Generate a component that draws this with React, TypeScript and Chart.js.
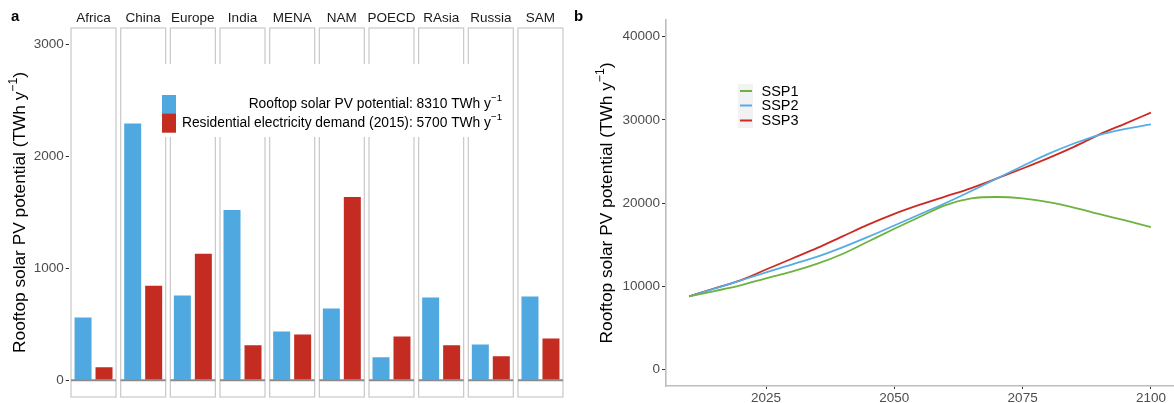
import React, { useEffect, useRef } from "react";
import { Chart, registerables } from "chart.js";

Chart.register(...registerables);

const FONT = "'Liberation Sans', Arial, Helvetica, sans-serif";
Chart.defaults.font.family = FONT;

// ---- Panel a data ----
const regions = ["Africa", "China", "Europe", "India", "MENA", "NAM", "POECD", "RAsia", "Russia", "SAM"];
const pvPotential = [561, 2297, 757, 1523, 436, 641, 205, 739, 320, 748];
const resDemand = [115, 846, 1131, 312, 410, 1639, 392, 312, 214, 374];
const barTicks = [0, 1000, 2000, 3000];
const barLegend = [
  "Rooftop solar PV potential: 8310 TWh y",
  "Residential electricity demand (2015): 5700 TWh y",
];

// ---- Panel b data ----
const years = [2010, 2015, 2020, 2025, 2030, 2035, 2040, 2045, 2050, 2055, 2060, 2065, 2070, 2075, 2080, 2085, 2090, 2095, 2100];
const ssp1 = [8780, 9420, 10100, 10950, 11750, 12700, 13900, 15400, 16900, 18350, 19750, 20550, 20720, 20550, 20100, 19450, 18650, 17900, 17100];
const ssp2 = [8780, 9700, 10680, 11650, 12600, 13550, 14700, 15950, 17300, 18650, 20000, 21450, 22950, 24450, 25900, 27150, 28200, 28900, 29450];
const ssp3 = [8780, 9750, 10700, 12000, 13300, 14600, 16020, 17430, 18700, 19800, 20800, 21800, 22950, 24150, 25400, 26750, 28250, 29550, 30870];
const seriesNames = ["SSP1", "SSP2", "SSP3"];
const lineTicksY = [0, 10000, 20000, 30000, 40000];
const lineTicksX = [2025, 2050, 2075, 2100];

const BLUE = "#4FA8E0";
const RED = "#C42B21";
const LINE_COLORS = ["#6DB33F", "#55ACE6", "#CC2B22"];
const AXIS_TITLE = "Rooftop solar PV potential (TWh y";

function drawSupText(ctx: CanvasRenderingContext2D, main: string, sup: string, tail: string, size: number) {
  ctx.font = `${size}px ${FONT}`;
  const wMain = ctx.measureText(main).width;
  const wTail = ctx.measureText(tail).width;
  ctx.font = `${size * 0.7}px ${FONT}`;
  const wSup = ctx.measureText(sup).width;
  const total = wMain + wSup + wTail;
  let x = -total / 2;
  ctx.textAlign = "left";
  ctx.textBaseline = "middle";
  ctx.font = `${size}px ${FONT}`;
  ctx.fillText(main, x, 0);
  x += wMain;
  ctx.font = `${size * 0.7}px ${FONT}`;
  ctx.fillText(sup, x, -size * 0.38);
  x += wSup;
  ctx.font = `${size}px ${FONT}`;
  ctx.fillText(tail, x, 0);
}

function drawRightSup(ctx: CanvasRenderingContext2D, main: string, sup: string, xRight: number, y: number, size: number) {
  ctx.font = `${size * 0.7}px ${FONT}`;
  const wSup = ctx.measureText(sup).width;
  ctx.textBaseline = "middle";
  ctx.textAlign = "left";
  ctx.fillText(sup, xRight - wSup, y - size * 0.38);
  ctx.font = `${size}px ${FONT}`;
  ctx.textAlign = "right";
  ctx.fillText(main, xRight - wSup, y);
}

const zeroPad = (s: any) => {
  s.paddingTop = 0;
  s.paddingBottom = 0;
  s.paddingLeft = 0;
  s.paddingRight = 0;
};

const facetPlugin = {
  id: "facets",
  beforeDatasetsDraw(chart: any) {
    const { ctx, chartArea, scales } = chart;
    const xs = scales.x;
    ctx.save();
    ctx.strokeStyle = "#c8c8c8";
    ctx.lineWidth = 1.2;
    regions.forEach((_, i) => {
      const cx = xs.getPixelForValue(i);
      ctx.strokeRect(cx - 22.5, chartArea.top, 45, chartArea.bottom - chartArea.top);
    });
    ctx.restore();
  },
  afterDatasetsDraw(chart: any) {
    const { ctx, chartArea, scales } = chart;
    const xs = scales.x;
    const ys = scales.y;
    const y0 = ys.getPixelForValue(0);
    ctx.save();
    ctx.strokeStyle = "#8a8a8a";
    ctx.lineWidth = 1.8;
    regions.forEach((_, i) => {
      const cx = xs.getPixelForValue(i);
      ctx.beginPath();
      ctx.moveTo(cx - 22.5, y0);
      ctx.lineTo(cx + 22.5, y0);
      ctx.stroke();
    });
    ctx.fillStyle = "#1a1a1a";
    ctx.font = `13.5px ${FONT}`;
    ctx.textAlign = "center";
    ctx.textBaseline = "middle";
    regions.forEach((r, i) => {
      ctx.fillText(r, xs.getPixelForValue(i), 18);
    });
    ctx.fillStyle = "#ffffff";
    ctx.fillRect(157, 64, 350, 73);
    ctx.fillStyle = BLUE;
    ctx.fillRect(162, 95, 14, 18.3);
    ctx.fillStyle = RED;
    ctx.fillRect(162, 113.3, 14, 19.4);
    ctx.fillStyle = "#000000";
    drawRightSup(ctx, barLegend[0], "\u22121", 502, 104, 13.8);
    drawRightSup(ctx, barLegend[1], "\u22121", 502, 123, 13.8);
    ctx.save();
    ctx.translate(20, (chartArea.top + chartArea.bottom) / 2);
    ctx.rotate(-Math.PI / 2);
    drawSupText(ctx, AXIS_TITLE, "\u22121", ")", 17.3);
    ctx.restore();
    ctx.font = `bold 15px ${FONT}`;
    ctx.textAlign = "left";
    ctx.textBaseline = "middle";
    ctx.fillText("a", 11, 17);
    ctx.restore();
  },
};

const linePlugin = {
  id: "lineDecor",
  afterDraw(chart: any) {
    const { ctx, chartArea } = chart;
    ctx.save();
    ctx.fillStyle = "#f2f2f2";
    ctx.fillRect(168, 84, 15, 44);
    const ys = [91, 105.5, 120.5];
    seriesNames.forEach((n, i) => {
      ctx.strokeStyle = LINE_COLORS[i];
      ctx.lineWidth = 2;
      ctx.beginPath();
      ctx.moveTo(170, ys[i]);
      ctx.lineTo(182, ys[i]);
      ctx.stroke();
      ctx.fillStyle = "#000000";
      ctx.font = `14.5px ${FONT}`;
      ctx.textAlign = "left";
      ctx.textBaseline = "middle";
      ctx.fillText(n, 191.5, ys[i] + 0.5);
    });
    ctx.fillStyle = "#000000";
    ctx.save();
    ctx.translate(37, (chartArea.top + chartArea.bottom) / 2);
    ctx.rotate(-Math.PI / 2);
    drawSupText(ctx, AXIS_TITLE, "\u22121", ")", 17.3);
    ctx.restore();
    ctx.font = `bold 15px ${FONT}`;
    ctx.textAlign = "left";
    ctx.textBaseline = "middle";
    ctx.fillText("b", 4, 17);
    ctx.restore();
  },
};

export default function App() {
  const barRef = useRef<HTMLCanvasElement>(null);
  const lineRef = useRef<HTMLCanvasElement>(null);

  useEffect(() => {
    const barChart = new Chart(barRef.current as HTMLCanvasElement, {
      type: "bar",
      data: {
        labels: regions,
        datasets: [
          { label: "PV", data: pvPotential, backgroundColor: BLUE, categoryPercentage: 0.845, barPercentage: 0.81 },
          { label: "Demand", data: resDemand, backgroundColor: RED, categoryPercentage: 0.845, barPercentage: 0.81 },
        ],
      },
      options: {
        animation: false,
        responsive: false,
        layout: { padding: { top: 28, bottom: 6, right: 4.7, left: 0 } },
        plugins: { legend: { display: false }, tooltip: { enabled: false } },
        scales: {
          x: { display: false },
          y: {
            min: -150,
            max: 3150,
            afterBuildTicks: (s: any) => {
              s.ticks = barTicks.map((v) => ({ value: v }));
            },
            afterFit: (s: any) => {
              s.width = 68.7;
              zeroPad(s);
            },
            grid: { drawOnChartArea: false, drawTicks: true, tickLength: 3, color: "#333333" },
            border: { display: false },
            ticks: { padding: 2, color: "#4d4d4d", font: { size: 13.5 }, callback: (v: any) => String(v) },
          },
        },
      } as any,
      plugins: [facetPlugin],
    });

    const mk = (arr: number[]) => years.map((y, i) => ({ x: y, y: arr[i] }));
    const lineChart = new Chart(lineRef.current as HTMLCanvasElement, {
      type: "line",
      data: {
        datasets: [ssp1, ssp2, ssp3].map((arr, i) => ({
          label: seriesNames[i],
          data: mk(arr),
          borderColor: LINE_COLORS[i],
          borderWidth: 1.8,
          pointRadius: 0,
          fill: false,
          cubicInterpolationMode: "monotone",
        })),
      },
      options: {
        animation: false,
        responsive: false,
        layout: { padding: { top: 20, bottom: 0, right: 0, left: 0 } },
        plugins: { legend: { display: false }, tooltip: { enabled: false } },
        scales: {
          x: {
            type: "linear",
            min: 2005.5,
            max: 2104.5,
            afterBuildTicks: (s: any) => {
              s.ticks = lineTicksX.map((v) => ({ value: v }));
            },
            afterFit: (s: any) => {
              s.height = 17;
              zeroPad(s);
            },
            grid: { drawOnChartArea: false, drawTicks: true, tickLength: 3, color: "#333333" },
            border: { display: true, color: "#bdbdbd", width: 1.6 },
            ticks: { padding: 1, color: "#4d4d4d", font: { size: 13.5 }, maxRotation: 0, callback: (v: any) => String(v) },
          },
          y: {
            min: -2000,
            max: 42000,
            afterBuildTicks: (s: any) => {
              s.ticks = lineTicksY.map((v) => ({ value: v }));
            },
            afterFit: (s: any) => {
              s.width = 96;
              zeroPad(s);
            },
            grid: { drawOnChartArea: false, drawTicks: true, tickLength: 4, color: "#333333" },
            border: { display: true, color: "#bdbdbd", width: 1.6 },
            ticks: { padding: 2, color: "#4d4d4d", font: { size: 13.5 }, callback: (v: any) => String(v) },
          },
        },
      } as any,
      plugins: [linePlugin],
    });

    return () => {
      barChart.destroy();
      lineChart.destroy();
    };
  }, []);

  return (
    <div style={{ position: "absolute", left: 0, top: 0, width: 1174, height: 403, background: "#ffffff" }}>
      <canvas ref={barRef} width={570} height={403} style={{ position: "absolute", left: 0, top: 0, width: 570, height: 403 }} />
      <canvas ref={lineRef} width={604} height={403} style={{ position: "absolute", left: 570, top: 0, width: 604, height: 403 }} />
    </div>
  );
}
